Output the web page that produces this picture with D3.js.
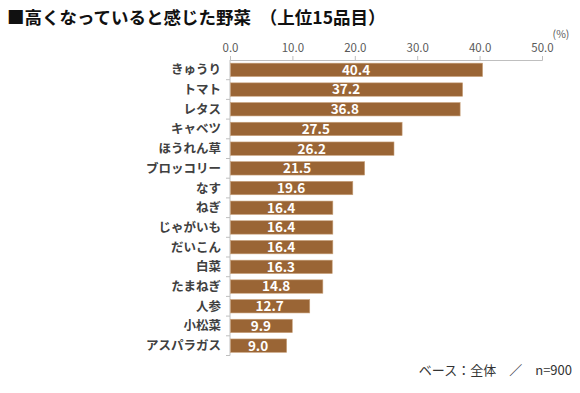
<!DOCTYPE html>
<html>
<head>
<meta charset="utf-8">
<script src="https://cdn.jsdelivr.net/npm/d3@7"></script>
<style>
  body { margin: 0; background: #fff; }
  svg { font-family: "Noto Sans CJK JP", sans-serif; }
</style>
</head>
<body>
<div id="root"></div>
<script>
const vegetables = ["きゅうり", "トマト", "レタス", "キャベツ", "ほうれん草", "ブロッコリー", "なす", "ねぎ",
  "じゃがいも", "だいこん", "白菜", "たまねぎ", "人参", "小松菜", "アスパラガス"];
const percents = [40.4, 37.2, 36.8, 27.5, 26.2, 21.5, 19.6, 16.4, 16.4, 16.4, 16.3, 14.8, 12.7, 9.9, 9.0];
const xTicks = [0, 10, 20, 30, 40, 50];

const width = 580;
const height = 393;
const margin = { top: 60, right: 38, bottom: 37, left: 230 };

const svg = d3.select("#root").append("svg")
  .attr("width", width)
  .attr("height", height);

svg.append("text")
  .attr("x", 7)
  .attr("y", 24)
  .attr("font-size", 17.5)
  .attr("font-weight", "bold")
  .attr("fill", "#111")
  .text("■高くなっていると感じた野菜　（上位15品目）");

const x = d3.scaleLinear([0, 50], [margin.left, width - margin.right]);
const y = d3.scaleBand(vegetables, [margin.top, height - margin.bottom - 0.5])
  .paddingInner(0.32)
  .paddingOuter(0.16);

// top axis
const xAxis = svg.append("g")
  .attr("transform", `translate(0, ${margin.top})`)
  .call(d3.axisTop(x).tickValues(xTicks).tickFormat(d3.format(".1f")).tickSizeOuter(0).tickSize(4).tickPadding(4));
xAxis.select(".domain").attr("stroke", "#bfbfbf");
xAxis.selectAll(".tick line").attr("stroke", "#bfbfbf");
xAxis.selectAll(".tick text")
  .attr("fill", "#595959")
  .attr("font-size", 11.5)
  .attr("font-family", "Noto Sans CJK JP, sans-serif");

svg.append("text")
  .attr("x", 561)
  .attr("y", 38)
  .attr("text-anchor", "middle")
  .attr("font-size", 10.5)
  .attr("fill", "#595959")
  .text("(%)");

// left axis line and separators between categories
const yBottom = height - margin.bottom - 0.5;
svg.append("line")
  .attr("x1", margin.left).attr("x2", margin.left)
  .attr("y1", margin.top).attr("y2", yBottom)
  .attr("stroke", "#bfbfbf");

const step = y.step();
svg.append("g")
  .selectAll("line")
  .data(vegetables)
  .join("line")
  .attr("x1", margin.left - 4)
  .attr("x2", margin.left)
  .attr("y1", d => y(d) - step * y.paddingInner() / 2 + step)
  .attr("y2", d => y(d) - step * y.paddingInner() / 2 + step)
  .attr("stroke", "#bfbfbf");

svg.append("g")
  .selectAll("rect")
  .data(vegetables)
  .join("rect")
  .attr("x", x(0) + 0.5)
  .attr("y", d => y(d))
  .attr("width", (d, i) => x(percents[i]) - x(0))
  .attr("height", y.bandwidth())
  .attr("fill", "#9a6535")
  .attr("stroke", "#c8a27c")
  .attr("stroke-width", 0.6);

svg.append("g")
  .selectAll("text")
  .data(vegetables)
  .join("text")
  .attr("x", (d, i) => (x(0) + x(percents[i])) / 2)
  .attr("y", d => y(d) + y.bandwidth() / 2)
  .attr("dy", "0.36em")
  .attr("text-anchor", "middle")
  .attr("font-size", 13.5)
  .attr("font-weight", "bold")
  .attr("fill", "#fff")
  .text((d, i) => percents[i].toFixed(1));

svg.append("g")
  .selectAll("text")
  .data(vegetables)
  .join("text")
  .attr("x", margin.left - 9)
  .attr("y", d => y(d) + y.bandwidth() / 2)
  .attr("dy", "0.36em")
  .attr("text-anchor", "end")
  .attr("font-size", 12.5)
  .attr("font-weight", "bold")
  .attr("fill", "#404040")
  .text(d => d);

svg.append("text")
  .attr("x", 572)
  .attr("y", 375)
  .attr("text-anchor", "end")
  .attr("font-size", 13)
  .attr("fill", "#333")
  .text("ベース：全体　／　n=900");
</script>
</body>
</html>
